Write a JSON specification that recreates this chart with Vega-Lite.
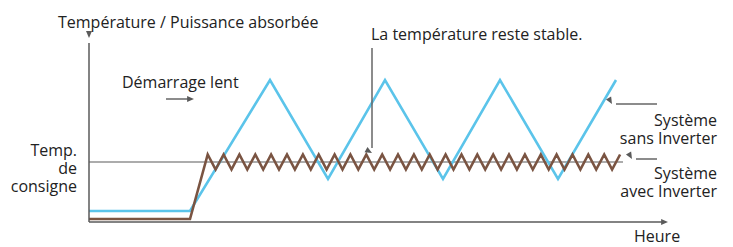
{
  "$schema": "https://vega.github.io/schema/vega-lite/v6.json",
  "width": 733,
  "height": 247,
  "autosize": {"type": "fit", "contains": "padding"},
  "padding": 0,
  "background": "white",
  "config": {
    "view": {"stroke": null},
    "axis": {"disable": true},
    "text": {"font": "Open Sans", "fontSize": 16, "color": "#222222"}
  },
  "datasets": {
    "sansInverter": [
      {"t": 89, "v": 36}, {"t": 190, "v": 36}, {"t": 270, "v": 167}, {"t": 328, "v": 68},
      {"t": 385, "v": 167}, {"t": 443, "v": 68}, {"t": 500, "v": 167}, {"t": 558, "v": 68},
      {"t": 616, "v": 167}
    ],
    "avecInverter": [
      {"t": 89, "v": 28}, {"t": 190, "v": 28},
      {"t": 207.7, "v": 92.5}, {"t": 215.6, "v": 77.5}, {"t": 223.6, "v": 92.5}, {"t": 231.5, "v": 77.5},
      {"t": 239.4, "v": 92.5}, {"t": 247.3, "v": 77.5}, {"t": 255.3, "v": 92.5}, {"t": 263.2, "v": 77.5},
      {"t": 271.1, "v": 92.5}, {"t": 279.0, "v": 77.5}, {"t": 287.0, "v": 92.5}, {"t": 294.9, "v": 77.5},
      {"t": 302.9, "v": 92.5}, {"t": 310.8, "v": 77.5}, {"t": 318.7, "v": 92.5}, {"t": 326.6, "v": 77.5},
      {"t": 334.6, "v": 92.5}, {"t": 342.5, "v": 77.5}, {"t": 350.4, "v": 92.5}, {"t": 358.3, "v": 77.5},
      {"t": 366.3, "v": 92.5}, {"t": 374.2, "v": 77.5}, {"t": 382.2, "v": 92.5}, {"t": 390.1, "v": 77.5},
      {"t": 398.0, "v": 92.5}, {"t": 405.9, "v": 77.5}, {"t": 413.9, "v": 92.5}, {"t": 421.8, "v": 77.5},
      {"t": 429.7, "v": 92.5}, {"t": 437.6, "v": 77.5}, {"t": 445.6, "v": 92.5}, {"t": 453.5, "v": 77.5},
      {"t": 461.5, "v": 92.5}, {"t": 469.4, "v": 77.5}, {"t": 477.3, "v": 92.5}, {"t": 485.2, "v": 77.5},
      {"t": 493.2, "v": 92.5}, {"t": 501.1, "v": 77.5}, {"t": 509.0, "v": 92.5}, {"t": 516.9, "v": 77.5},
      {"t": 524.9, "v": 92.5}, {"t": 532.8, "v": 77.5}, {"t": 540.8, "v": 92.5}, {"t": 548.7, "v": 77.5},
      {"t": 556.6, "v": 92.5}, {"t": 564.5, "v": 77.5}, {"t": 572.5, "v": 92.5}, {"t": 580.4, "v": 77.5},
      {"t": 588.3, "v": 92.5}, {"t": 596.2, "v": 77.5}, {"t": 604.2, "v": 92.5}, {"t": 612.1, "v": 77.5},
      {"t": 620.1, "v": 92.5}
    ],
    "axes": [
      {"t": 89, "v": 25, "t2": 89, "v2": 204},
      {"t": 89, "v": 25, "t2": 663, "v2": 25}
    ],
    "setpoint": [{"t": 89, "v": 85, "t2": 623, "v2": 85}],
    "pointers": [
      {"t": 166, "v": 148, "t2": 190, "v2": 148},
      {"t": 372, "v": 199, "t2": 372, "v2": 99},
      {"t": 657, "v": 143, "t2": 616, "v2": 143},
      {"t": 657, "v": 88, "t2": 636, "v2": 88}
    ],
    "heads": [
      {"t": 89, "v": 209, "dir": "up"},
      {"t": 668, "v": 25, "dir": "right"},
      {"t": 194, "v": 148, "dir": "right"},
      {"t": 372, "v": 94, "dir": "down"},
      {"t": 612, "v": 143, "dir": "left"},
      {"t": 632, "v": 88, "dir": "left"}
    ],
    "labelsLeft": [
      {"t": 58, "v": 219, "label": "Température / Puissance absorbée"},
      {"t": 122, "v": 159, "label": "Démarrage lent"},
      {"t": 371, "v": 207, "label": "La température reste stable."},
      {"t": 634, "v": 5, "label": "Heure"}
    ],
    "labelsRight": [
      {"t": 717, "v": 121, "label": "Système\nsans Inverter"},
      {"t": 717, "v": 68, "label": "Système\navec Inverter"},
      {"t": 77, "v": 91, "label": "Temp.\nde\nconsigne"}
    ]
  },
  "encoding": {
    "x": {"field": "t", "type": "quantitative", "scale": {"domain": [0, 733], "nice": false, "zero": false}},
    "y": {"field": "v", "type": "quantitative", "scale": {"domain": [0, 247], "nice": false, "zero": false}}
  },
  "layer": [
    {
      "data": {"name": "setpoint"},
      "mark": {"type": "rule", "color": "#5a5a5a", "strokeWidth": 1.2},
      "encoding": {"x2": {"field": "t2"}, "y2": {"field": "v2"}}
    },
    {
      "data": {"name": "sansInverter"},
      "mark": {"type": "line", "color": "#5bc4ea", "strokeWidth": 2.6, "strokeJoin": "miter"},
      "encoding": {"order": {"field": "t", "type": "quantitative"}}
    },
    {
      "data": {"name": "avecInverter"},
      "mark": {"type": "line", "color": "#7a5442", "strokeWidth": 2.6, "strokeJoin": "miter"},
      "encoding": {"order": {"field": "t", "type": "quantitative"}}
    },
    {
      "data": {"name": "axes"},
      "mark": {"type": "rule", "color": "#5a5a5a", "strokeWidth": 1.5},
      "encoding": {"x2": {"field": "t2"}, "y2": {"field": "v2"}}
    },
    {
      "data": {"name": "pointers"},
      "mark": {"type": "rule", "color": "#666666", "strokeWidth": 1.5},
      "encoding": {"x2": {"field": "t2"}, "y2": {"field": "v2"}}
    },
    {
      "data": {"name": "heads"},
      "mark": {"type": "point", "shape": "M0,0L-2.3,-1L-2.3,1Z", "filled": true, "size": 36, "color": "#5a5a5a", "opacity": 1},
      "encoding": {
        "angle": {"field": "dir", "type": "nominal", "scale": {"domain": ["right", "down", "left", "up"], "range": [0, 90, 180, 270]}, "legend": null}
      }
    },
    {
      "data": {"name": "labelsLeft"},
      "mark": {"type": "text", "align": "left", "baseline": "alphabetic"},
      "encoding": {"text": {"field": "label"}}
    },
    {
      "data": {"name": "labelsRight"},
      "mark": {"type": "text", "align": "right", "baseline": "alphabetic", "lineBreak": "\n", "lineHeight": 18},
      "encoding": {"text": {"field": "label"}}
    }
  ]
}
